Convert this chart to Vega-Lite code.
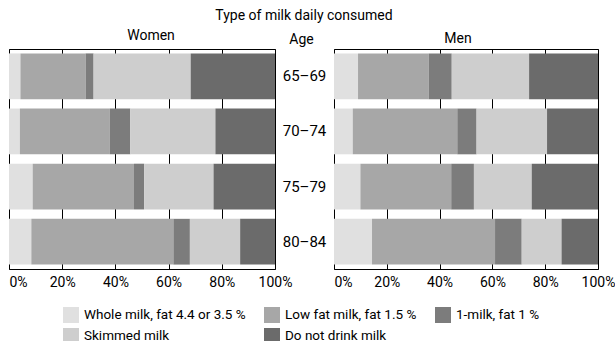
{
  "$schema": "https://vega.github.io/schema/vega-lite/v6.json",
  "padding": {"left": 8, "top": 8, "right": 0, "bottom": 0},
  "background": "white",
  "config": {
    "font": "Roboto",
    "view": {"stroke": "black", "strokeWidth": 1},
    "axis": {"labelColor": "black", "titleColor": "black", "titleFontWeight": "normal"},
    "legend": {"labelColor": "black"}
  },
  "title": {"text": "Type of milk daily consumed", "fontSize": 14, "fontWeight": "normal", "anchor": "middle", "color": "black", "offset": 6, "dx": -8},
  "data": {"values": [
    {"sex": "Women", "age": "65–69", "type": "Whole milk, fat 4.4 or 3.5 %", "order": 1, "value": 4.3},
    {"sex": "Women", "age": "65–69", "type": "Low fat milk, fat 1.5 %", "order": 2, "value": 24.5},
    {"sex": "Women", "age": "65–69", "type": "1-milk, fat 1 %", "order": 3, "value": 3.0},
    {"sex": "Women", "age": "65–69", "type": "Skimmed milk", "order": 4, "value": 36.5},
    {"sex": "Women", "age": "65–69", "type": "Do not drink milk", "order": 5, "value": 31.7},
    {"sex": "Women", "age": "70–74", "type": "Whole milk, fat 4.4 or 3.5 %", "order": 1, "value": 4.1},
    {"sex": "Women", "age": "70–74", "type": "Low fat milk, fat 1.5 %", "order": 2, "value": 33.8},
    {"sex": "Women", "age": "70–74", "type": "1-milk, fat 1 %", "order": 3, "value": 7.7},
    {"sex": "Women", "age": "70–74", "type": "Skimmed milk", "order": 4, "value": 32.0},
    {"sex": "Women", "age": "70–74", "type": "Do not drink milk", "order": 5, "value": 22.4},
    {"sex": "Women", "age": "75–79", "type": "Whole milk, fat 4.4 or 3.5 %", "order": 1, "value": 8.9},
    {"sex": "Women", "age": "75–79", "type": "Low fat milk, fat 1.5 %", "order": 2, "value": 38.1},
    {"sex": "Women", "age": "75–79", "type": "1-milk, fat 1 %", "order": 3, "value": 3.8},
    {"sex": "Women", "age": "75–79", "type": "Skimmed milk", "order": 4, "value": 26.1},
    {"sex": "Women", "age": "75–79", "type": "Do not drink milk", "order": 5, "value": 23.1},
    {"sex": "Women", "age": "80–84", "type": "Whole milk, fat 4.4 or 3.5 %", "order": 1, "value": 8.4},
    {"sex": "Women", "age": "80–84", "type": "Low fat milk, fat 1.5 %", "order": 2, "value": 53.4},
    {"sex": "Women", "age": "80–84", "type": "1-milk, fat 1 %", "order": 3, "value": 6.2},
    {"sex": "Women", "age": "80–84", "type": "Skimmed milk", "order": 4, "value": 18.9},
    {"sex": "Women", "age": "80–84", "type": "Do not drink milk", "order": 5, "value": 13.1},
    {"sex": "Men", "age": "65–69", "type": "Whole milk, fat 4.4 or 3.5 %", "order": 1, "value": 9.1},
    {"sex": "Men", "age": "65–69", "type": "Low fat milk, fat 1.5 %", "order": 2, "value": 26.8},
    {"sex": "Men", "age": "65–69", "type": "1-milk, fat 1 %", "order": 3, "value": 8.7},
    {"sex": "Men", "age": "65–69", "type": "Skimmed milk", "order": 4, "value": 29.3},
    {"sex": "Men", "age": "65–69", "type": "Do not drink milk", "order": 5, "value": 26.1},
    {"sex": "Men", "age": "70–74", "type": "Whole milk, fat 4.4 or 3.5 %", "order": 1, "value": 7.1},
    {"sex": "Men", "age": "70–74", "type": "Low fat milk, fat 1.5 %", "order": 2, "value": 39.6},
    {"sex": "Men", "age": "70–74", "type": "1-milk, fat 1 %", "order": 3, "value": 7.3},
    {"sex": "Men", "age": "70–74", "type": "Skimmed milk", "order": 4, "value": 26.7},
    {"sex": "Men", "age": "70–74", "type": "Do not drink milk", "order": 5, "value": 19.3},
    {"sex": "Men", "age": "75–79", "type": "Whole milk, fat 4.4 or 3.5 %", "order": 1, "value": 10.0},
    {"sex": "Men", "age": "75–79", "type": "Low fat milk, fat 1.5 %", "order": 2, "value": 34.4},
    {"sex": "Men", "age": "75–79", "type": "1-milk, fat 1 %", "order": 3, "value": 8.6},
    {"sex": "Men", "age": "75–79", "type": "Skimmed milk", "order": 4, "value": 21.9},
    {"sex": "Men", "age": "75–79", "type": "Do not drink milk", "order": 5, "value": 25.1},
    {"sex": "Men", "age": "80–84", "type": "Whole milk, fat 4.4 or 3.5 %", "order": 1, "value": 14.4},
    {"sex": "Men", "age": "80–84", "type": "Low fat milk, fat 1.5 %", "order": 2, "value": 46.6},
    {"sex": "Men", "age": "80–84", "type": "1-milk, fat 1 %", "order": 3, "value": 10.1},
    {"sex": "Men", "age": "80–84", "type": "Skimmed milk", "order": 4, "value": 15.1},
    {"sex": "Men", "age": "80–84", "type": "Do not drink milk", "order": 5, "value": 13.8}
  ]},
  "bounds": "flush",
  "spacing": 59,
  "resolve": {"scale": {"color": "shared"}},
  "hconcat": [
    {
      "width": 266,
      "height": 220,
      "title": {"text": "Women", "fontSize": 14, "fontWeight": "normal", "offset": 0, "dy": 11, "dx": 9, "color": "black"},
      "transform": [{"filter": "datum.sex === 'Women'"}],
      "mark": {"type": "bar"},
      "encoding": {
        "y": {"field": "age", "type": "nominal", "sort": null,
          "scale": {"paddingInner": 0.17, "paddingOuter": 0.08},
          "axis": {"orient": "right", "title": "Age", "titleAngle": 0, "titleX": 26, "titleY": -6, "titleAlign": "center", "titleBaseline": "alphabetic", "titleFontSize": 14,
            "labelAlign": "center", "labelPadding": 29, "ticks": false, "domain": false, "labelFontSize": 15}},
        "x": {"field": "value", "type": "quantitative", "stack": "normalize",
          "axis": {"format": "%", "values": [0, 0.2, 0.4, 0.6, 0.8, 1], "grid": true, "gridColor": "black", "gridOpacity": 1, "ticks": false, "domain": false, "labelFontSize": 14, "labelFlush": false,
            "labelAlign": {"condition": {"test": "datum.value === 0", "value": "left"}, "value": "center"},
            "title": null, "labelPadding": 6}},
        "color": {"field": "type", "type": "nominal",
          "scale": {"domain": ["Whole milk, fat 4.4 or 3.5 %", "Low fat milk, fat 1.5 %", "1-milk, fat 1 %", "Skimmed milk", "Do not drink milk"],
                    "range": ["#e0e0e0", "#a7a7a7", "#7c7c7c", "#cecece", "#6b6b6b"]},
          "legend": {"title": null, "orient": "none", "legendX": 54, "legendY": 258, "direction": "horizontal", "columns": 3, "symbolType": "square", "symbolSize": 256, "symbolStrokeWidth": 0, "symbolOpacity": 1, "columnPadding": 18, "rowPadding": 5, "labelFontSize": 13.5, "labelLimit": 400, "labelOffset": 5}},
        "order": {"field": "order"}
      }
    },
    {
      "width": 264,
      "height": 220,
      "title": {"text": "Men", "fontSize": 14, "fontWeight": "normal", "offset": 3, "dx": -8, "color": "black"},
      "transform": [{"filter": "datum.sex === 'Men'"}],
      "mark": {"type": "bar"},
      "encoding": {
        "y": {"field": "age", "type": "nominal", "sort": null,
          "scale": {"paddingInner": 0.17, "paddingOuter": 0.08},
          "axis": null},
        "x": {"field": "value", "type": "quantitative", "stack": "normalize",
          "axis": {"format": "%", "values": [0, 0.2, 0.4, 0.6, 0.8, 1], "grid": true, "gridColor": "black", "gridOpacity": 1, "ticks": false, "domain": false, "labelFontSize": 14, "labelFlush": false,
            "labelAlign": {"condition": {"test": "datum.value === 0", "value": "left"}, "value": "center"},
            "title": null, "labelPadding": 6}},
        "color": {"field": "type", "type": "nominal"},
        "order": {"field": "order"}
      }
    }
  ]
}
